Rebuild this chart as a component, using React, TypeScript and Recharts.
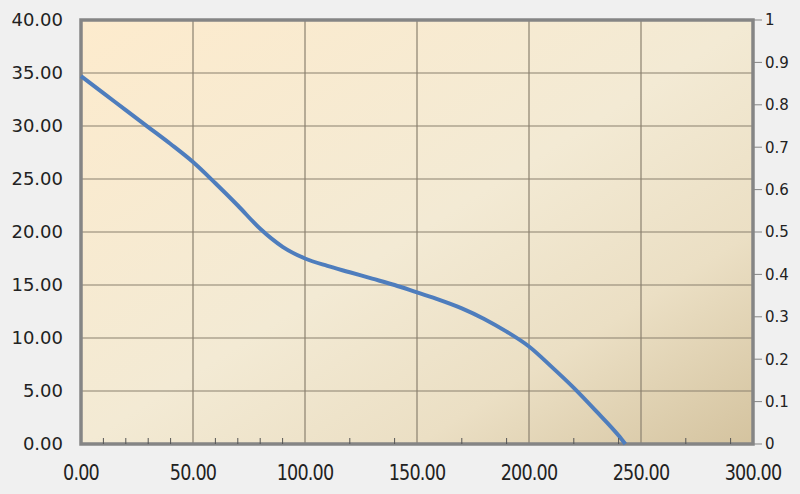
import { LineChart, Line, XAxis, YAxis, CartesianGrid, ReferenceArea } from 'recharts';

const xValues = [0, 10, 20, 30, 40, 50, 60, 70, 80, 90, 100, 110, 120, 130, 140, 150, 160, 170, 180, 190, 200, 210, 220, 230, 240, 243];
const yValues = [34.7, 33.1, 31.5, 29.9, 28.3, 26.6, 24.6, 22.5, 20.3, 18.6, 17.5, 16.8, 16.2, 15.6, 15.0, 14.3, 13.6, 12.8, 11.8, 10.6, 9.2, 7.3, 5.3, 3.1, 0.8, 0];

const xTicks = [0, 50, 100, 150, 200, 250, 300];
const minorTicks = [10, 20, 30, 40, 60, 70, 80, 90, 110, 120, 130, 140, 160, 170, 180, 190, 210, 220, 230, 240, 260, 270, 280, 290];
const leftTicks = [0, 5, 10, 15, 20, 25, 30, 35, 40];
const rightTicks = [0, 0.1, 0.2, 0.3, 0.4, 0.5, 0.6, 0.7, 0.8, 0.9, 1];

const data = xValues.map((x, i) => ({ x, y: yValues[i] }));

const frame = '#858585';
const grid = '#8a806f';

// narrow, tall labels like the original's condensed font
const XTick = (props: any) => {
  const { x, y, payload } = props;
  return (
    <text
      transform={`translate(${x},${y}) scale(0.8,1)`}
      textAnchor="middle"
      dy="0.72em"
      fill="#222"
      fontSize={22}
      fontFamily="DejaVu Sans"
      letterSpacing={-1}
    >
      {payload.value.toFixed(2)}
    </text>
  );
};

// small inward tick marks between the labelled ones
const MinorTick = (props: any) => {
  const { x, y } = props;
  return <line x1={x} x2={x} y1={y - 6} y2={y} stroke="#555" strokeWidth={1} />;
};

export default function App() {
  return (
    <div style={{ position: 'absolute', left: 0, top: 0, width: 800, height: 494, background: '#f0f0f0' }}>
      <svg width={0} height={0} style={{ position: 'absolute' }}>
        <defs>
          <linearGradient id="bg" x1="0" y1="0" x2="1" y2="1">
            <stop offset="0%" stopColor="#fdebcd" />
            <stop offset="50%" stopColor="#f3ead4" />
            <stop offset="75%" stopColor="#ebdfc4" />
            <stop offset="100%" stopColor="#d4c39f" />
          </linearGradient>
        </defs>
      </svg>
      <LineChart width={800} height={494} data={data} margin={{ top: 20, right: 0, bottom: 0, left: 0 }}>
        <CartesianGrid yAxisId="left" stroke={grid} strokeWidth={1.2} fill="url(#bg)" fillOpacity={1} />
        <XAxis
          dataKey="x"
          type="number"
          domain={[0, 300]}
          ticks={xTicks}
          height={50}
          axisLine={false}
          tickLine={false}
          tickSize={0}
          tickMargin={20}
          tick={<XTick />}
        />
        <XAxis
          xAxisId="minor"
          dataKey="x"
          type="number"
          domain={[0, 300]}
          ticks={minorTicks}
          height={50}
          axisLine={false}
          tickLine={false}
          tickSize={0}
          tickMargin={0}
          mirror
          tick={<MinorTick />}
        />
        <YAxis
          yAxisId="left"
          domain={[0, 40]}
          ticks={leftTicks}
          width={81}
          axisLine={false}
          tickLine={false}
          tickSize={0}
          tickMargin={18}
          tickFormatter={(v: number) => v.toFixed(2)}
          tick={{ fill: '#222', fontSize: 18, fontFamily: '"DejaVu Sans"' }}
        />
        <YAxis
          yAxisId="right"
          orientation="right"
          domain={[0, 1]}
          allowDataOverflow
          ticks={rightTicks}
          width={47}
          axisLine={false}
          tickSize={9}
          tickMargin={3}
          tickLine={{ stroke: frame, strokeWidth: 1 }}
          tickFormatter={(v: number) => String(v)}
          tick={{ fill: '#222', fontSize: 15, fontFamily: '"DejaVu Sans"' }}
        />
        <ReferenceArea
          yAxisId="left"
          x1={0}
          x2={300}
          y1={0}
          y2={40}
          fill="none"
          fillOpacity={0}
          stroke={frame}
          strokeWidth={3.5}
          ifOverflow="visible"
        />
        <Line
          xAxisId="minor"
          yAxisId="right"
          dataKey="y"
          stroke="none"
          dot={false}
          activeDot={false}
          isAnimationActive={false}
        />
        <Line
          yAxisId="left"
          type="monotone"
          dataKey="y"
          stroke="#4e7dbd"
          strokeWidth={4}
          dot={false}
          isAnimationActive={false}
        />
      </LineChart>
    </div>
  );
}
